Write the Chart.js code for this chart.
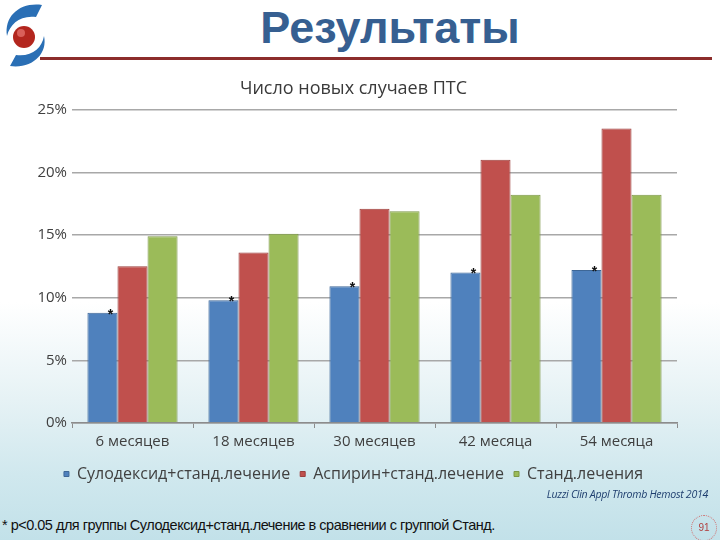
<!DOCTYPE html>
<html lang="ru">
<head>
<meta charset="UTF-8">
<title>Результаты</title>
<script src="https://cdn.jsdelivr.net/npm/chart.js"></script>
<style>
  html, body { margin: 0; padding: 0; }
  body {
    width: 720px; height: 540px; overflow: hidden; position: relative;
    font-family: "Liberation Sans", Arial, sans-serif;
    background: linear-gradient(to bottom, #ffffff 0%, #ffffff 56%, #e6f2f5 74%, #d0e8ee 88%, #c2e1e9 100%);
  }
  .title {
    position: absolute; left: 180px; width: 420px; top: 2px; text-align: center;
    font-size: 45px; font-weight: bold; color: #365f91;
  }
  .rule { position: absolute; left: 40px; top: 57px; width: 672px; height: 3px; background: #8c2d2b; }
  .logo { position: absolute; left: 2px; top: 2px; }
  .chart-box { position: absolute; left: 0; top: 70px; width: 720px; height: 426px; }
  .source {
    position: absolute; right: 12px; top: 487px; font-family: "Open Sans", sans-serif;
    font-style: italic; font-size: 10.6px; color: #1f3f6f; letter-spacing: -0.3px;
  }
  .note {
    position: absolute; left: 2px; top: 517px; font-family: "Liberation Sans", Arial, sans-serif;
    font-size: 14.5px; color: #111; letter-spacing: -0.5px;
  }
  .page {
    position: absolute; left: 691px; top: 515px; width: 24px; height: 24px; border-radius: 50%;
    border: 1px dotted #d07070; color: #b04040; font-size: 10px; text-align: center; line-height: 24px;
  }
</style>
</head>
<body>
<svg class="logo" width="52" height="68" viewBox="0 0 52 68">
  <path d="M40 3 C18 0 2 14 5 34 C8 22 18 13 34 15 Z" fill="#2a6fb5"/>
  <path d="M8 64 C30 67 46 52 42 34 C40 46 30 55 14 53 Z" fill="#2a6fb5"/>
  <circle cx="22" cy="35" r="11" fill="#b3261e"/>
  <circle cx="19" cy="31" r="4" fill="#d9605a"/>
</svg>
<div class="title">Результаты</div>
<div class="rule"></div>
<div class="chart-box"><canvas id="c"></canvas></div>
<div class="source">Luzzi Clin Appl Thromb Hemost 2014</div>
<div class="note">* p&lt;0.05 для группы Сулодексид+станд.лечение в сравнении с группой Станд.</div>
<div class="page">91</div>

<script>
const periods = ['6 месяцев', '18 месяцев', '30 месяцев', '42 месяца', '54 месяца'];
const sulodexide = [8.8, 9.8, 10.9, 12.0, 12.2];
const aspirin = [12.5, 13.6, 17.1, 21.0, 23.5];
const standard = [14.9, 15.1, 16.9, 18.2, 18.2];
const significant = [true, true, true, true, true];
const yTicks = [0, 5, 10, 15, 20, 25];

const font = '"Open Sans", sans-serif';

// asterisks over the sulodexide bars
const starPlugin = {
  id: 'stars',
  afterDatasetsDraw(chart) {
    const ctx = chart.ctx;
    const meta = chart.getDatasetMeta(0);
    ctx.save();
    ctx.fillStyle = '#111';
    ctx.font = 'bold 14px "Liberation Sans"';
    ctx.textAlign = 'center';
    ctx.textBaseline = 'bottom';
    meta.data.forEach((bar, i) => {
      if (!significant[i]) return;
      ctx.fillText('*', bar.x + bar.width / 2 - 7, bar.y + 9);
    });
    ctx.restore();
  }
};

new Chart(document.getElementById('c'), {
  type: 'bar',
  data: {
    labels: periods,
    datasets: [
      { label: 'Сулодексид+станд.лечение', data: sulodexide, backgroundColor: '#4f81bd', borderColor: '#3e6797', borderWidth: 1 },
      { label: 'Аспирин+станд.лечение', data: aspirin, backgroundColor: '#c0504d', borderColor: '#9a3f3d', borderWidth: 1 },
      { label: 'Станд.лечения', data: standard, backgroundColor: '#9bbb59', borderColor: '#7c9747', borderWidth: 1 }
    ]
  },
  plugins: [starPlugin],
  options: {
    responsive: true,
    maintainAspectRatio: false,
    animation: false,
    layout: { padding: { left: 30, right: 43, top: 4, bottom: 4 } },
    datasets: { bar: { categoryPercentage: 0.745, barPercentage: 1 } },
    plugins: {
      title: {
        display: true, text: 'Число новых случаев ПТС', color: '#3a3a3a',
        font: { family: font, size: 18, weight: 'normal' }, padding: { top: 4, bottom: 10 }
      },
      legend: {
        position: 'bottom',
        labels: {
          color: '#404040', font: { family: font, size: 16 },
          boxWidth: 5, boxHeight: 5, padding: 10
        }
      },
      tooltip: { enabled: false }
    },
    scales: {
      x: {
        grid: { display: true, drawOnChartArea: false, drawTicks: true, tickLength: 5, color: '#8c8c8c', offset: true },
        border: { display: true, color: '#8c8c8c', width: 1.5 },
        ticks: { color: '#404040', font: { family: font, size: 15 }, padding: 5 }
      },
      y: {
        min: 0, max: 25,
        afterBuildTicks(scale) { scale.ticks = yTicks.map(v => ({ value: v })); },
        afterFit(scale) { scale.width = 42; },
        grid: { color: '#a8a8a8', lineWidth: 1.5, drawTicks: false },
        border: { display: false },
        ticks: { color: '#404040', font: { family: font, size: 15 }, padding: 5, callback: v => v + '%' }
      }
    }
  }
});
</script>
</body>
</html>
